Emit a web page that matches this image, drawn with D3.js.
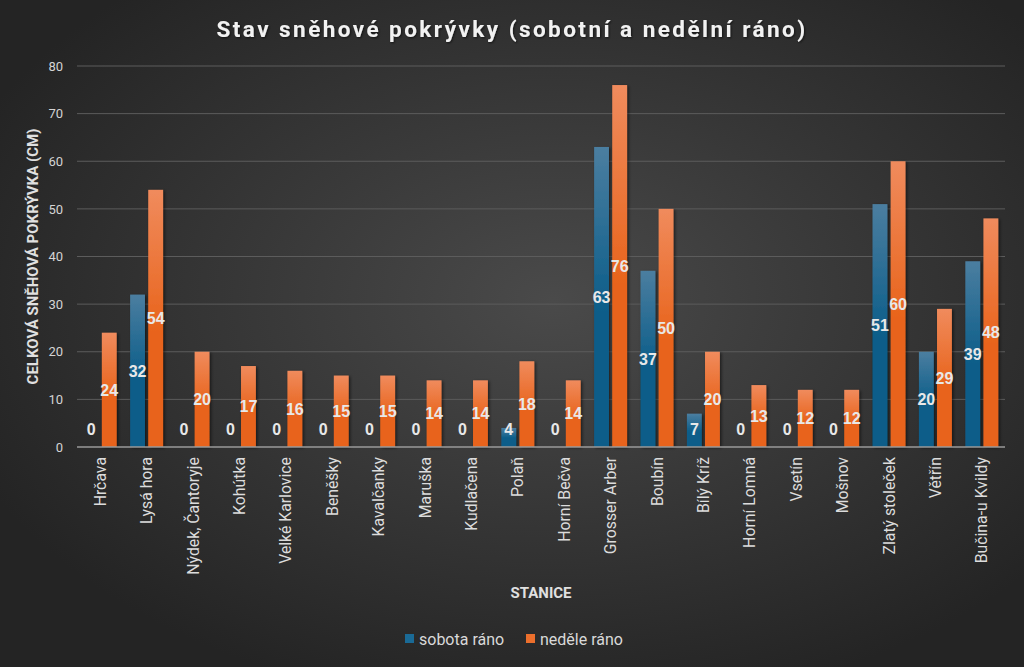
<!DOCTYPE html>
<html>
<head>
<meta charset="utf-8">
<script src="https://cdn.jsdelivr.net/npm/d3@7"></script>
<style>
  html, body { margin: 0; padding: 0; background: #2a2a2a; }
  svg { display: block; }
</style>
</head>
<body>
<svg id="chart"></svg>
<script>
// Stav sněhové pokrývky – seskupený sloupcový graf

const width = 1024, height = 667;

const stations = ["Hrčava", "Lysá hora", "Nýdek, Čantoryje", "Kohútka", "Velké Karlovice",
  "Beněšky", "Kavalčanky", "Maruška", "Kudlačena", "Polaň", "Horní Bečva",
  "Grosser Arber", "Boubín", "Bílý Kríž", "Horní Lomná", "Vsetín", "Mošnov",
  "Zlatý stoleček", "Větřín", "Bučina-u Kvildy"];
const saturday = [0, 32, 0, 0, 0, 0, 0, 0, 0, 4, 0, 63, 37, 7, 0, 0, 0, 51, 20, 39];
const sunday   = [24, 54, 20, 17, 16, 15, 15, 14, 14, 18, 14, 76, 50, 20, 13, 12, 12, 60, 29, 48];
const seriesNames = ["sobota ráno", "neděle ráno"];
const yTicks = [0, 10, 20, 30, 40, 50, 60, 70, 80];

const plot = { left: 77, right: 1005, top: 66, bottom: 447 };

const svg = d3.select("#chart")
  .attr("width", width)
  .attr("height", height)
  .attr("viewBox", `0 0 ${width} ${height}`);

const defs = svg.append("defs");

const bg = defs.append("radialGradient")
  .attr("id", "bg")
  .attr("cx", "54%").attr("cy", "45%").attr("r", "62%");
bg.append("stop").attr("offset", "0%").attr("stop-color", "#4a4a4a");
bg.append("stop").attr("offset", "100%").attr("stop-color", "#242424");

const colors = [
  { id: "gBlue", top: "#4b7ea0", bottom: "#0b5d89", legend: "#1a6a96" },
  { id: "gOrange", top: "#f08b5d", bottom: "#e8641c", legend: "#ec6f2c" }
];
colors.forEach(c => {
  const lg = defs.append("linearGradient")
    .attr("id", c.id).attr("x1", 0).attr("y1", 0).attr("x2", 0).attr("y2", 1);
  lg.append("stop").attr("offset", "0%").attr("stop-color", c.top);
  lg.append("stop").attr("offset", "55%").attr("stop-color", c.bottom);
  lg.append("stop").attr("offset", "100%").attr("stop-color", c.bottom);
});

defs.append("filter").attr("id", "shadow")
  .attr("x", "-30%").attr("y", "-5%").attr("width", "160%").attr("height", "110%")
  .append("feDropShadow")
  .attr("dx", 1.5).attr("dy", 1).attr("stdDeviation", 1.4)
  .attr("flood-color", "#000").attr("flood-opacity", 0.55);

defs.append("filter").attr("id", "tshadow")
  .append("feDropShadow")
  .attr("dx", 1).attr("dy", 1).attr("stdDeviation", 0.8)
  .attr("flood-color", "#000").attr("flood-opacity", 0.6);

svg.append("rect")
  .attr("width", width).attr("height", height)
  .attr("fill", "url(#bg)");

const x = d3.scaleBand()
  .domain(stations)
  .range([plot.left, plot.right])
  .paddingInner(0.29)
  .paddingOuter(0.145);

const x1 = d3.scaleBand()
  .domain([0, 1])
  .range([0, x.bandwidth()])
  .paddingInner(0.18);

const y = d3.scaleLinear()
  .domain([0, 80])
  .range([plot.bottom, plot.top]);

// mřížka
svg.append("g")
  .selectAll("line")
  .data(yTicks.filter(t => t > 0))
  .join("line")
  .attr("x1", plot.left).attr("x2", plot.right)
  .attr("y1", d => y(d)).attr("y2", d => y(d))
  .attr("stroke", "#5c5c5c")
  .attr("stroke-width", 1);

// osa Y
const yAxis = svg.append("g")
  .attr("transform", `translate(${plot.left},0)`)
  .call(d3.axisLeft(y).tickValues(yTicks).tickSize(0).tickPadding(14));
yAxis.select(".domain").remove();
yAxis.selectAll("text")
  .attr("fill", "#d4d4d4")
  .style("font-family", "Roboto, sans-serif")
  .style("font-size", "13px");

// sloupce
const data = stations.map((name, i) => ({ name, values: [saturday[i], sunday[i]] }));

const groups = svg.append("g")
  .selectAll("g")
  .data(data)
  .join("g")
  .attr("transform", d => `translate(${x(d.name)},0)`);

groups.selectAll("rect")
  .data(d => d.values.map((v, k) => ({ k, v })))
  .join("rect")
  .attr("x", d => x1(d.k))
  .attr("y", d => y(d.v))
  .attr("width", x1.bandwidth())
  .attr("height", d => y(0) - y(d.v))
  .attr("fill", d => `url(#${colors[d.k].id})`)
  .attr("filter", "url(#shadow)");

// popisky hodnot
groups.selectAll("text")
  .data(d => d.values.map((v, k) => ({ k, v })))
  .join("text")
  .attr("x", d => x1(d.k) + x1.bandwidth() / 2)
  .attr("y", d => Math.min((y(d.v) + y(0)) / 2, y(0) - 18))
  .attr("dy", "0.36em")
  .attr("text-anchor", "middle")
  .attr("fill", "#e8e8e8")
  .style("font-family", "'Liberation Sans', Arial, sans-serif")
  .style("font-weight", "bold")
  .style("font-size", "16px")
  .text(d => d.v);

// osa X
svg.append("line")
  .attr("x1", plot.left).attr("x2", plot.right)
  .attr("y1", y(0)).attr("y2", y(0))
  .attr("stroke", "#9a9a9a")
  .attr("stroke-width", 1.5);

svg.append("g")
  .selectAll("text")
  .data(stations)
  .join("text")
  .attr("transform", d => `translate(${x(d) + x.bandwidth() / 2},${plot.bottom + 10}) rotate(-90)`)
  .attr("text-anchor", "end")
  .attr("dy", "0.35em")
  .attr("fill", "#dcdcdc")
  .style("font-family", "Roboto, sans-serif")
  .style("font-size", "15.8px")
  .text(d => d);

// titulky
svg.append("text")
  .attr("x", width / 2)
  .attr("y", 37)
  .attr("text-anchor", "middle")
  .attr("fill", "#f2f2f2")
  .attr("filter", "url(#tshadow)")
  .style("font-family", "Roboto, sans-serif")
  .style("font-weight", "bold")
  .style("font-size", "22.5px")
  .style("letter-spacing", "2.45px")
  .text("Stav sněhové pokrývky (sobotní a nedělní ráno)");

svg.append("text")
  .attr("transform", `translate(38,${(plot.top + plot.bottom) / 2}) rotate(-90)`)
  .attr("text-anchor", "middle")
  .attr("fill", "#e0e0e0")
  .style("font-family", "Roboto, sans-serif")
  .style("font-weight", "bold")
  .style("font-size", "15px")
  .text("CELKOVÁ SNĚHOVÁ POKRÝVKA (CM)");

svg.append("text")
  .attr("x", (plot.left + plot.right) / 2)
  .attr("y", 598)
  .attr("text-anchor", "middle")
  .attr("fill", "#e0e0e0")
  .style("font-family", "Roboto, sans-serif")
  .style("font-weight", "bold")
  .style("font-size", "15px")
  .text("STANICE");

// legenda
const legendX = [405, 526];
const legend = svg.append("g")
  .selectAll("g")
  .data(seriesNames)
  .join("g")
  .attr("transform", (d, i) => `translate(${legendX[i]},639)`);

legend.append("rect")
  .attr("x", 0).attr("y", -5)
  .attr("width", 9).attr("height", 9)
  .attr("fill", (d, i) => colors[i].legend);

legend.append("text")
  .attr("x", 14)
  .attr("dy", "0.35em")
  .attr("fill", "#d9d9d9")
  .style("font-family", "Roboto, sans-serif")
  .style("font-size", "16px")
  .text(d => d);
</script>
</body>
</html>
